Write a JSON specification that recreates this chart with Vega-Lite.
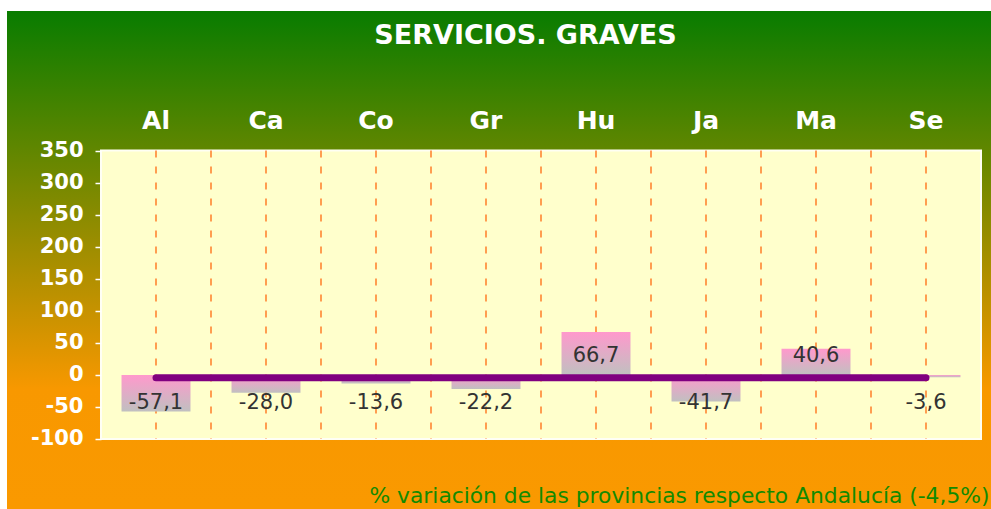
{
  "$schema": "https://vega.github.io/schema/vega-lite/v6.json",
  "width": 984,
  "height": 498,
  "autosize": {"type": "none"},
  "padding": {"left": 7, "top": 11, "right": 0, "bottom": 0},
  "background": "white",
  "config": {
    "view": {"stroke": null},
    "font": "DejaVu Sans",
    "locale": {"number": {"decimal": ",", "thousands": ".", "grouping": [3], "currency": ["", " €"], "minus": "-"}}
  },
  "data": {
    "values": [
      {"p": "Al", "v": -57.1},
      {"p": "Ca", "v": -28.0},
      {"p": "Co", "v": -13.6},
      {"p": "Gr", "v": -22.2},
      {"p": "Hu", "v": 66.7},
      {"p": "Ja", "v": -41.7},
      {"p": "Ma", "v": 40.6},
      {"p": "Se", "v": -3.6}
    ]
  },
  "layer": [
    {
      "data": {"values": [{"k": 1}]},
      "mark": {
        "type": "rect",
        "fill": {
          "gradient": "linear", "x1": 0, "y1": 0, "x2": 0, "y2": 1,
          "stops": [
            {"offset": 0, "color": "#087C00"},
            {"offset": 0.76, "color": "#F89800"},
            {"offset": 1, "color": "#FA9900"}
          ]
        }
      },
      "encoding": {}
    },
    {
      "mark": {"type": "rule", "stroke": "#FF6A10", "strokeWidth": 1.3, "strokeDash": [7, 9]},
      "encoding": {
        "x": {
          "field": "p", "type": "nominal", "sort": null,
          "scale": {"domain": ["Al", "Ca", "Co", "Gr", "Hu", "Ja", "Ma", "Se"], "paddingInner": 0, "paddingOuter": 0.47273, "align": 0.90385},
          "axis": {
            "orient": "top", "offset": -117, "zindex": 2, "domain": false, "ticks": false, "tickSize": 0, "labelPadding": 0,
            "labelAngle": 0, "labelBaseline": "alphabetic", "labelColor": "white", "labelFont": "DejaVu Sans",
            "labelFontSize": 25, "labelFontWeight": "bold",
            "title": "SERVICIOS. GRAVES", "titleColor": "white", "titleFont": "DejaVu Sans", "titleFontSize": 27,
            "titleFontWeight": "bold", "titleX": 518, "titleY": -85, "titleAlign": "center", "titleBaseline": "alphabetic", "titleAngle": 0
          }
        },
        "y": {"datum": 350, "type": "quantitative"},
        "y2": {"datum": -100}
      }
    },
    {
      "mark": {"type": "rect", "fill": "#FFFFCC", "stroke": "#FFFFF4", "strokeWidth": 2},
      "data": {"values": [{"k": 1}]},
      "encoding": {
        "x": {"datum": "Al", "bandPosition": 0},
        "x2": {"datum": "Se", "bandPosition": 1},
        "y": {"datum": 350, "type": "quantitative"},
        "y2": {"datum": -100}
      }
    },
    {
      "mark": {"type": "rule", "stroke": "#FF6A10", "strokeWidth": 1.3, "strokeDash": [7, 9]},
      "encoding": {
        "x": {"field": "p", "type": "nominal", "sort": null},
        "y": {"datum": 350, "type": "quantitative"},
        "y2": {"datum": -100}
      }
    },
    {
      "transform": [{"filter": "datum.p != 'Se'"}],
      "mark": {"type": "rule", "stroke": "#FF6A10", "strokeWidth": 1.3, "strokeDash": [7, 9]},
      "encoding": {
        "x": {"field": "p", "type": "nominal", "sort": null, "bandPosition": 1},
        "y": {"datum": 350, "type": "quantitative"},
        "y2": {"datum": -100}
      }
    },
    {
      "mark": {
        "type": "bar",
        "width": {"band": 0.627},
        "fill": {
          "gradient": "linear", "x1": 0, "y1": 0, "x2": 0, "y2": 1,
          "stops": [
            {"offset": 0, "color": "#FF99CC"},
            {"offset": 1, "color": "#C0C0C0"}
          ]
        }
      },
      "encoding": {
        "x": {"field": "p", "type": "nominal", "sort": null},
        "y": {
          "field": "v", "type": "quantitative",
          "scale": {"domain": [-209.2, 567.6], "nice": false, "zero": false},
          "axis": {
            "orient": "left", "offset": -94, "zindex": 2, "domain": false, "grid": false,
            "values": [-100, -50, 0, 50, 100, 150, 200, 250, 300, 350],
            "tickColor": "white", "tickSize": 6, "tickWidth": 1.5, "labelPadding": 12,
            "labelColor": "white", "labelFont": "DejaVu Sans", "labelFontSize": 21, "labelFontWeight": "bold",
            "format": "d",
            "title": "% variación de las provincias respecto Andalucía (-4,5%)",
            "titleColor": "#128A00", "titleFont": "DejaVu Sans", "titleFontSize": 21.8, "titleFontWeight": "normal",
            "titleAngle": 0, "titleAlign": "right", "titleBaseline": "alphabetic", "titleX": 888, "titleY": 491
          }
        },
        "y2": {"datum": 0}
      }
    },
    {
      "mark": {"type": "line", "stroke": "#800080", "strokeWidth": 7, "strokeCap": "round"},
      "encoding": {
        "x": {"field": "p", "type": "nominal", "sort": null},
        "y": {"datum": -4.5, "type": "quantitative"}
      }
    },
    {
      "transform": [{"filter": "datum.v >= 0"}],
      "mark": {"type": "text", "color": "#333333", "font": "DejaVu Sans", "fontSize": 21, "baseline": "middle", "dy": -19},
      "encoding": {
        "x": {"field": "p", "type": "nominal", "sort": null},
        "y": {"datum": 0, "type": "quantitative"},
        "text": {"field": "v", "type": "quantitative", "format": ".1f"}
      }
    },
    {
      "transform": [{"filter": "datum.v < 0"}],
      "mark": {"type": "text", "color": "#333333", "font": "DejaVu Sans", "fontSize": 21, "baseline": "middle", "dy": 28},
      "encoding": {
        "x": {"field": "p", "type": "nominal", "sort": null},
        "y": {"datum": 0, "type": "quantitative"},
        "text": {"field": "v", "type": "quantitative", "format": ".1f"}
      }
    }
  ]
}
